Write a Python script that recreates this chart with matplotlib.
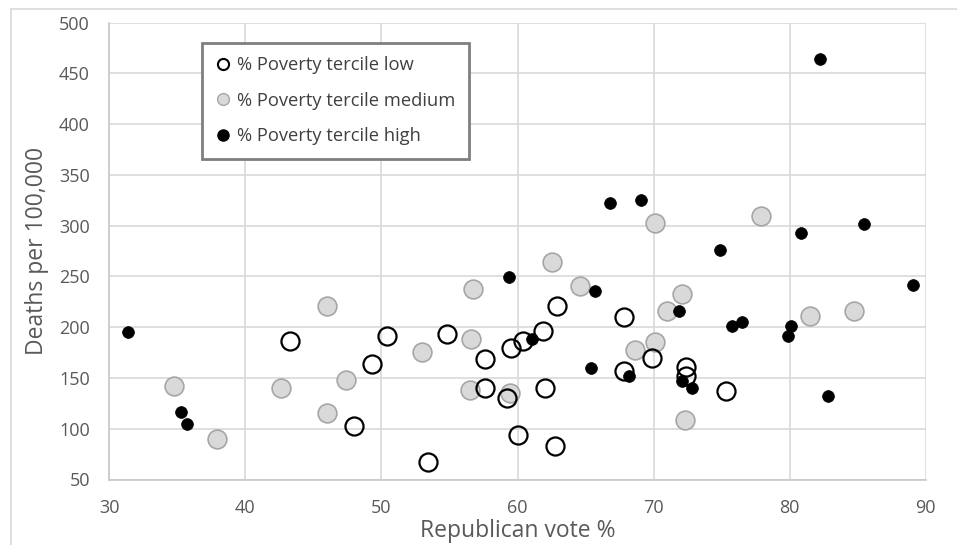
import matplotlib
matplotlib.use("Agg")
import matplotlib.pyplot as plt
from matplotlib.lines import Line2D

plt.rcParams['font.family'] = ['Open Sans', 'DejaVu Sans']

# Poverty tercile low (open circles)
low_x = [43.3, 50.4, 49.3, 48.0, 53.4, 54.8, 57.6, 57.6, 59.2, 59.5, 60.4,
         61.9, 62.0, 60.0, 62.75, 62.9, 67.8, 67.8, 69.9, 72.4, 72.4, 75.3]
low_y = [186.7, 191.7, 163.5, 102.7, 66.8, 193.3, 168.4, 140.5, 130.0, 180.0, 186.5,
         196.3, 140.5, 93.9, 83.3, 220.9, 210.4, 157.2, 170.0, 161.1, 152.0, 137.5]

# Poverty tercile medium (grey)
med_x = [34.75, 37.9, 42.6, 46.0, 46.0, 47.4, 53.0, 56.5, 56.6, 56.7, 59.45,
         62.5, 64.6, 68.6, 70.1, 70.1, 71.0, 72.1, 72.3, 77.9, 81.5, 84.7]
med_y = [142.1, 89.9, 140.2, 115.2, 220.9, 148.0, 176.0, 138.2, 188.7, 237.4, 135.0,
         264.3, 240.9, 177.5, 185.5, 302.4, 216.3, 232.8, 108.7, 309.6, 211.4, 216.3]

# Poverty tercile high (black)
high_x = [31.4, 35.25, 35.7, 59.4, 61.1, 65.4, 65.7, 66.8, 68.2, 69.05, 71.9, 72.1,
          72.8, 74.9, 75.8, 76.5, 79.9, 80.1, 80.8, 82.2, 82.8, 85.5, 89.1]
high_y = [195.6, 116.2, 104.4, 249.2, 188.5, 160.2, 235.4, 322.1, 152.0, 325.3, 216.0, 147.4,
          139.9, 276.1, 201.2, 205.5, 191.4, 201.5, 292.5, 464.2, 132.3, 301.4, 241.6]

labels = ["% Poverty tercile low", "% Poverty tercile medium", "% Poverty tercile high"]

W, H = 957, 545
fig = plt.figure(figsize=(W / 100, H / 100), dpi=100)
ax = fig.add_axes([109.3 / W, 1 - 479.5 / H, (925.7 - 109.3) / W, (479.5 - 22.7) / H])

ax.plot(med_x, med_y, 'o', ms=13.5, mfc='#d9d9d9', mec='#a6a6a6', mew=1.2, zorder=3)
ax.plot(low_x, low_y, 'o', ms=13, mfc='none', mec='black', mew=1.6, zorder=4)
ax.plot(high_x, high_y, 'o', ms=8.5, mfc='black', mec='black', mew=0.5, zorder=5)

ax.set_xlim(30, 90)
ax.set_ylim(50, 500)
ax.set_xticks(range(30, 91, 10))
ax.set_yticks(range(50, 501, 50))
ax.grid(True, color='#d9d9d9', linewidth=1.2)
ax.set_axisbelow(True)
for s in ['top', 'right']:
    ax.spines[s].set_visible(False)
for s in ['left', 'bottom']:
    ax.spines[s].set_color('#c8c8c8')
    ax.spines[s].set_linewidth(1.2)
ax.tick_params(length=0, labelsize=13, labelcolor='#595959', pad=14)

ax.set_xlabel("Republican vote %", fontsize=16.5, color='#595959', va='center')
ax.xaxis.set_label_coords(0.5, -0.112)
ax.set_ylabel("Deaths per 100,000", fontsize=16.5, color='#595959', va='center')
ax.yaxis.set_label_coords(-0.088, 0.5)

handles = [
    Line2D([], [], ls='none', marker='o', ms=8, mfc='none', mec='black', mew=1.5),
    Line2D([], [], ls='none', marker='o', ms=8.5, mfc='#d9d9d9', mec='#a6a6a6', mew=1),
    Line2D([], [], ls='none', marker='o', ms=8, mfc='black', mec='black'),
]
leg = ax.legend(handles, labels, loc='upper left', bbox_to_anchor=(202.3 / W, 1 - 42.7 / H),
                bbox_transform=fig.transFigure, borderaxespad=0, fancybox=False,
                framealpha=1, edgecolor='#7f7f7f', fontsize=13.2, labelspacing=0.95,
                handlelength=0.8, handletextpad=0.35, borderpad=0.75)
leg.get_frame().set_linewidth(2)
for t in leg.get_texts():
    t.set_color('#404040')

# light outer chart frame
fig.add_artist(Line2D([10.5 / W, 10.5 / W], [0, 1 - 9 / H], color='#d9d9d9', lw=1.2))
fig.add_artist(Line2D([10.5 / W, 1], [1 - 9 / H, 1 - 9 / H], color='#d9d9d9', lw=1.2))

fig.savefig("out.png", dpi=100)
